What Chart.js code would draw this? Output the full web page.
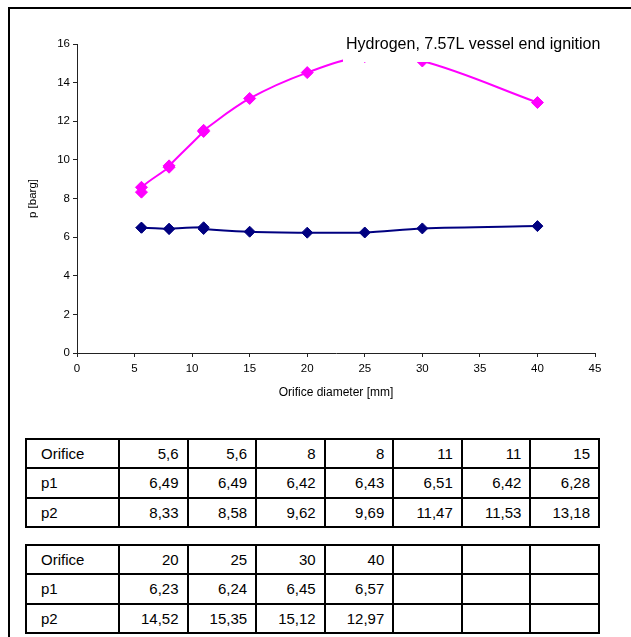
<!DOCTYPE html>
<html>
<head>
<meta charset="utf-8">
<script src="https://cdn.jsdelivr.net/npm/chart.js@4/dist/chart.umd.min.js"></script>
<style>
  html, body { margin: 0; padding: 0; background: #fff; }
  #page { position: relative; width: 631px; height: 637px; overflow: hidden; background: #fff; }
  #frame { position: absolute; left: 8px; top: 7px; right: -10px; bottom: -10px;
           border-left: 2px solid #000; border-top: 2px solid #000; }
  #plot { position: absolute; left: 0; top: 0; }
  table.data { position: absolute; left: 25px; width: 575px; border-collapse: collapse;
               table-layout: fixed; font-family: "Liberation Sans", Arial, sans-serif;
               font-size: 15px; color: #000; }
  table.data td { border: 2px solid #000; height: 27.3px; padding: 0 8px 0 8px;
                  text-align: right; white-space: nowrap; }
  table.data td.head { text-align: left; padding-left: 14px; }
</style>
</head>
<body>
<div id="page">
  <div id="frame"></div>
  <canvas id="plot" width="631" height="420"></canvas>
  <table class="data" id="t1" style="top:438px"></table>
  <table class="data" id="t2" style="top:544px"></table>
</div>
<script>
// Measured pressures versus orifice diameter
const orifice = [5.6, 5.6, 8, 8, 11, 11, 15, 20, 25, 30, 40];
const p1 = [6.49, 6.49, 6.42, 6.43, 6.51, 6.42, 6.28, 6.23, 6.24, 6.45, 6.57];
const p2 = [8.33, 8.58, 9.62, 9.69, 11.47, 11.53, 13.18, 14.52, 15.35, 15.12, 12.97];
const rowNames = ['Orifice', 'p1', 'p2'];
const chartTitle = 'Hydrogen, 7.57L vessel end ignition';
const xTitle = 'Orifice diameter [mm]';
const yTitle = 'p [barg]';

const FONT = '"Liberation Sans", Arial, sans-serif';

function pts(ys) { return orifice.map((x, i) => ({ x: x, y: ys[i] })); }

// Chart title sits inside the plot on a white box; axis titles placed beside the axes
const overlay = {
  id: 'overlay',
  afterDatasetsDraw(chart) {
    const ctx = chart.ctx, a = chart.chartArea;
    ctx.save();
    ctx.fillStyle = '#fff';
    ctx.fillRect(343, 28, 264, 34);
    ctx.fillStyle = '#000';
    ctx.font = '16px ' + FONT;
    ctx.textAlign = 'left';
    ctx.textBaseline = 'middle';
    ctx.fillText(chartTitle, 346, 45);
    ctx.font = '12px ' + FONT;
    ctx.textAlign = 'center';
    ctx.fillText(xTitle, (a.left + a.right) / 2, 393);
    ctx.font = '11.5px ' + FONT;
    ctx.translate(33, (a.top + a.bottom) / 2);
    ctx.rotate(-Math.PI / 2);
    ctx.fillText(yTitle, 0, 0);
    ctx.restore();
  }
};

const axisCommon = {
  grid: { display: true, drawOnChartArea: false, drawTicks: true, tickLength: 4, color: '#222' },
  border: { display: true, color: '#222', width: 1 }
};

new Chart(document.getElementById('plot'), {
  type: 'line',
  data: {
    datasets: [
      { label: 'p1', data: pts(p1), borderColor: '#000080', backgroundColor: '#000080',
        borderWidth: 2, pointStyle: 'rectRot', pointRadius: 5.5, pointBorderWidth: 1,
        tension: 0.3, fill: false },
      { label: 'p2', data: pts(p2), borderColor: '#FF00FF', backgroundColor: '#FF00FF',
        borderWidth: 2, pointStyle: 'rectRot', pointRadius: 6, pointBorderWidth: 1,
        tension: 0.35, fill: false }
    ]
  },
  options: {
    responsive: false, animation: false, devicePixelRatio: 1,
    layout: { padding: { left: 0, top: 44, right: 36, bottom: 0 } },
    plugins: { legend: { display: false }, tooltip: { enabled: false }, title: { display: false } },
    scales: {
      x: Object.assign({}, axisCommon, {
        type: 'linear', min: 0, max: 45,
        ticks: { stepSize: 5, color: '#000', padding: 5, maxRotation: 0, font: { family: FONT, size: 11.5 } },
        afterFit(s) { s.height = 67; }
      }),
      y: Object.assign({}, axisCommon, {
        type: 'linear', min: 0, max: 16,
        ticks: { stepSize: 2, color: '#000', padding: 3, font: { family: FONT, size: 11.5 } },
        afterFit(s) { s.width = 77; }
      })
    }
  },
  plugins: [overlay]
});

// Data tables below the plot
function fmt(v) { return String(v).replace('.', ','); }
function buildTable(id, from, to, cols) {
  const t = document.getElementById(id);
  const cg = document.createElement('colgroup');
  const c0 = document.createElement('col'); c0.style.width = '93px'; cg.appendChild(c0);
  for (let i = 0; i < cols; i++) { const c = document.createElement('col'); cg.appendChild(c); }
  t.appendChild(cg);
  const rows = [orifice, p1, p2];
  rows.forEach((arr, r) => {
    const tr = document.createElement('tr');
    const th = document.createElement('td'); th.className = 'head'; th.textContent = rowNames[r];
    tr.appendChild(th);
    for (let i = 0; i < cols; i++) {
      const td = document.createElement('td');
      const k = from + i;
      td.textContent = k < to ? fmt(arr[k]) : '';
      tr.appendChild(td);
    }
    t.appendChild(tr);
  });
}
buildTable('t1', 0, 7, 7);
buildTable('t2', 7, 11, 7);
</script>
</body>
</html>
